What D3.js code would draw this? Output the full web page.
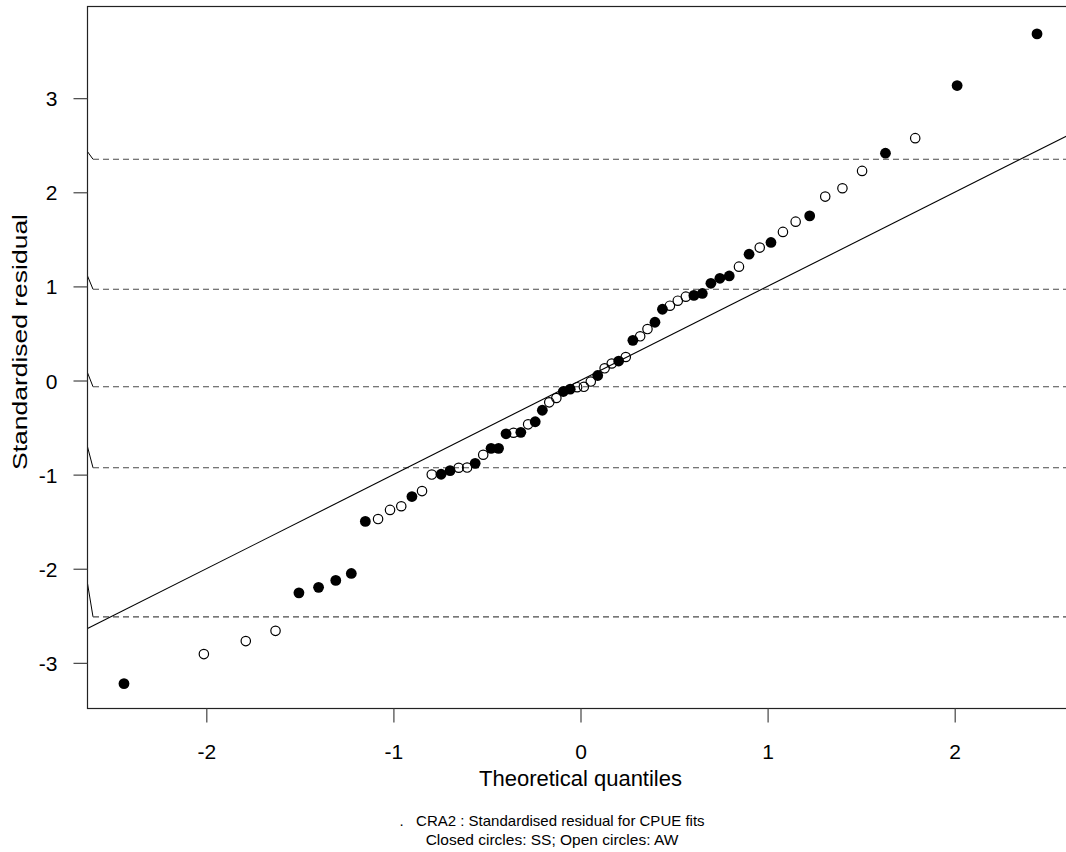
<!DOCTYPE html>
<html><head><meta charset="utf-8">
<script src="https://cdn.jsdelivr.net/npm/d3@7"></script>
<style>body{margin:0;background:#fff}svg{display:block}text{font-family:"Liberation Sans",Arial,sans-serif;fill:#000}</style>
</head><body><svg id="c" width="1066" height="852"></svg>
<script>
// Closed circles (SS): theoretical quantile, standardised residual
const ssX = [-2.440,-1.505,-1.400,-1.308,-1.225,-1.150,-0.901,-0.745,-0.697,-0.563,-0.478,-0.438,-0.398,-0.319,-0.242,-0.204,-0.092,-0.055,0.092,0.204,0.280,0.398,0.438,0.606,0.651,0.697,0.745,0.795,0.901,1.018,1.225,1.630,2.013,2.440];
const ssY = [-3.221,-2.256,-2.198,-2.124,-2.050,-1.497,-1.233,-0.996,-0.957,-0.880,-0.721,-0.721,-0.566,-0.551,-0.438,-0.316,-0.117,-0.092,0.053,0.207,0.427,0.619,0.757,0.904,0.925,1.033,1.086,1.111,1.342,1.467,1.749,2.415,3.134,3.683];
// Open circles (AW)
const awX = [-2.013,-1.789,-1.630,-1.082,-1.018,-0.958,-0.847,-0.795,-0.651,-0.606,-0.520,-0.358,-0.280,-0.167,-0.129,-0.018,0.018,0.055,0.129,0.167,0.242,0.319,0.358,0.478,0.520,0.563,0.847,0.958,1.082,1.150,1.308,1.400,1.505,1.789];
const awY = [-2.907,-2.769,-2.660,-1.472,-1.375,-1.336,-1.175,-0.999,-0.927,-0.925,-0.789,-0.555,-0.466,-0.232,-0.186,-0.071,-0.067,-0.011,0.130,0.181,0.250,0.470,0.547,0.795,0.848,0.891,1.210,1.412,1.579,1.688,1.954,2.043,2.227,2.575];
// Dashed reference levels and the start of their short slanted lead-ins
const dashLevels = [2.351, 0.970, -0.066, -0.927, -2.511];
const dashLeadFrom = [2.432, 1.111, 0.083, -0.704, -2.156];
// Reference line (intercept, slope)
const refLine = [0, 1];
const xTicks = [-2,-1,0,1,2];
const yTicks = [-3,-2,-1,0,1,2,3];
const xDomain = [-2.635, 2.635];
const yDomain = [-3.485, 3.974];
const xLabel = "Theoretical quantiles";
const yLabel = "Standardised residual";
const caption = [".   CRA2 : Standardised residual for CPUE fits", "Closed circles: SS; Open circles: AW"];

const L = 87.5, R = 1073.5, T = 6.5, B = 708.5;
const svg = d3.select("#c");
const x = d3.scaleLinear().domain(xDomain).range([L, R]);
const y = d3.scaleLinear().domain(yDomain).range([B, T]);

svg.append("clipPath").attr("id","clip").append("rect").attr("x",L).attr("y",T).attr("width",R-L).attr("height",B-T);
const plot = svg.append("g").attr("clip-path","url(#clip)");

// dashed lines
dashLevels.forEach((v,i)=>{
  plot.append("line").attr("x1", L).attr("y1", y(dashLeadFrom[i])).attr("x2", L+5.5).attr("y2", y(v))
    .attr("stroke","#000").attr("stroke-width",1);
  plot.append("line").attr("x1", L+5.5).attr("x2", R).attr("y1", y(v)).attr("y2", y(v))
    .attr("stroke","#4a4a4a").attr("stroke-width",1.1).attr("stroke-dasharray","6,4");
});

// reference line
plot.append("line")
  .attr("x1", x(xDomain[0])).attr("y1", y(refLine[0]+refLine[1]*xDomain[0]))
  .attr("x2", x(xDomain[1])).attr("y2", y(refLine[0]+refLine[1]*xDomain[1]))
  .attr("stroke","#000").attr("stroke-width",1.1);

// points
plot.selectAll("circle.ss").data(d3.zip(ssX, ssY)).join("circle").attr("class","ss")
  .attr("cx", d=>x(d[0])).attr("cy", d=>y(d[1])).attr("r",5.4).attr("fill","#000");
plot.selectAll("circle.aw").data(d3.zip(awX, awY)).join("circle").attr("class","aw")
  .attr("cx", d=>x(d[0])).attr("cy", d=>y(d[1])).attr("r",4.7).attr("fill","none")
  .attr("stroke","#000").attr("stroke-width",1.2);

// box
svg.append("rect").attr("x",L).attr("y",T).attr("width",R-L).attr("height",B-T)
  .attr("fill","none").attr("stroke","#222").attr("stroke-width",1.2);

// axes
const fmt = d => String(d);
const xAx = svg.append("g").attr("transform",`translate(0,${B})`)
  .call(d3.axisBottom(x).tickValues(xTicks).tickFormat(fmt).tickSize(14).tickPadding(22).tickSizeOuter(0));
const yAx = svg.append("g").attr("transform",`translate(${L},0)`)
  .call(d3.axisLeft(y).tickValues(yTicks).tickFormat(fmt).tickSize(14).tickPadding(16).tickSizeOuter(0));
[xAx,yAx].forEach(g=>{
  g.select(".domain").remove();
  g.selectAll(".tick line").attr("stroke","#444").attr("stroke-width",1.2);
  g.selectAll(".tick text").style("font-size","21px").attr("fill","#000")
   .style("font-family",'"Liberation Sans",Arial,sans-serif');
});
yAx.selectAll(".tick text").attr("dy","0.36em");

// labels
svg.append("text").attr("x", (L+R)/2).attr("y", 786).attr("text-anchor","middle")
  .style("font-size","22px").text(xLabel);
svg.append("text").attr("transform", `translate(27,342) rotate(-90)`).attr("text-anchor","middle")
  .style("font-size","21px").attr("textLength",256).attr("lengthAdjust","spacingAndGlyphs").text(yLabel);

// caption
caption.forEach((t,i)=>{
  svg.append("text").attr("x", 552).attr("y", 826 + i*19).attr("text-anchor","middle")
    .style("font-size", i===0 ? "15px" : "15.5px").style("white-space","pre").attr("xml:space","preserve").text(t);
});
</script></body></html>
